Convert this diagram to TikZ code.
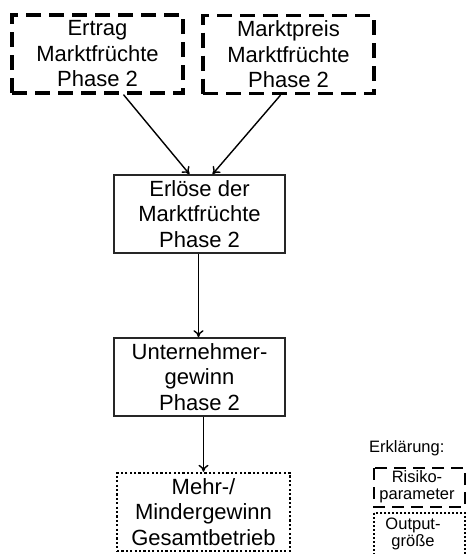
\documentclass[tikz,border=0pt]{standalone}
\usepackage{fontspec}
\setmainfont{Liberation Sans}
\usetikzlibrary{arrows.meta,calc}
\begin{document}
\begin{tikzpicture}[x=1pt,y=-1pt,
  box/.style={draw=black!85, line width=1.6pt, minimum width=171pt, minimum height=78pt,
    inner sep=0pt, align=center, font=\fontsize{22}{25.5}\selectfont},
  riskbox/.style={box, draw=black, line width=3.3pt, dash pattern=on 15pt off 8pt},
  outbox/.style={box, draw=black, line width=2.4pt, dash pattern=on 2.2pt off 2.2pt},
  legrisk/.style={draw=black, line width=2.8pt, dash pattern=on 12pt off 7pt},
  legout/.style={draw=black, line width=2pt, dash pattern=on 2pt off 2pt},
  legtext/.style={font=\fontsize{16.5}{16.5}\selectfont, inner sep=0pt},
  flow/.style={draw=black, line width=1.4pt, -{To[length=7pt,width=10pt,line width=1.4pt]}}]
\clip (0,0) rectangle (466,554);
\useasboundingbox (0,0) rectangle (466,554);

% risk parameters
\node[riskbox] (ertrag) at (97.5,54) {Ertrag\\Marktfrüchte\\Phase 2};
\node[riskbox] (preis) at (288.5,54.5) {Marktpreis\\Marktfrüchte\\Phase 2};

% intermediate quantities
\node[box] (erloes) at (199.5,214) {Erlöse der\\Marktfrüchte\\Phase 2};
\node[box] (gewinn) at (199.5,377) {Unternehmer-\\gewinn\\Phase 2};

% output
\node[outbox, minimum width=173pt] (mehr) at (203.5,512) {Mehr-/\\Mindergewinn\\Gesamtbetrieb};

% connectors
\draw[flow] ($(ertrag.south)+(26,0)$) -- ($(erloes.north)+(-10,0)$);
\draw[flow] ($(preis.south)+(-8,0)$) -- ($(erloes.north)+(13,0)$);
\draw[flow] ($(erloes.south)+(-1,0)$) -- ($(gewinn.north)+(-1,0)$);
\draw[flow] ($(gewinn.south)+(4,0)$) -- ($(mehr.north)+(0,0)$);

% legend
\node[legtext, anchor=base west] (legtitle) at (369,452) {Erklärung:};
\draw[legrisk] (374,468) rectangle (465,507);
\node[legtext, align=center, font=\fontsize{16.5}{17}\selectfont] (risk) at (417,487) {Risiko-\\parameter};
\draw[legout] (374,513) rectangle (465,560);
\node[legtext, align=center, font=\fontsize{16.5}{17}\selectfont] (outp) at (413,534) {Output-\\größe};
\end{tikzpicture}
\end{document}
